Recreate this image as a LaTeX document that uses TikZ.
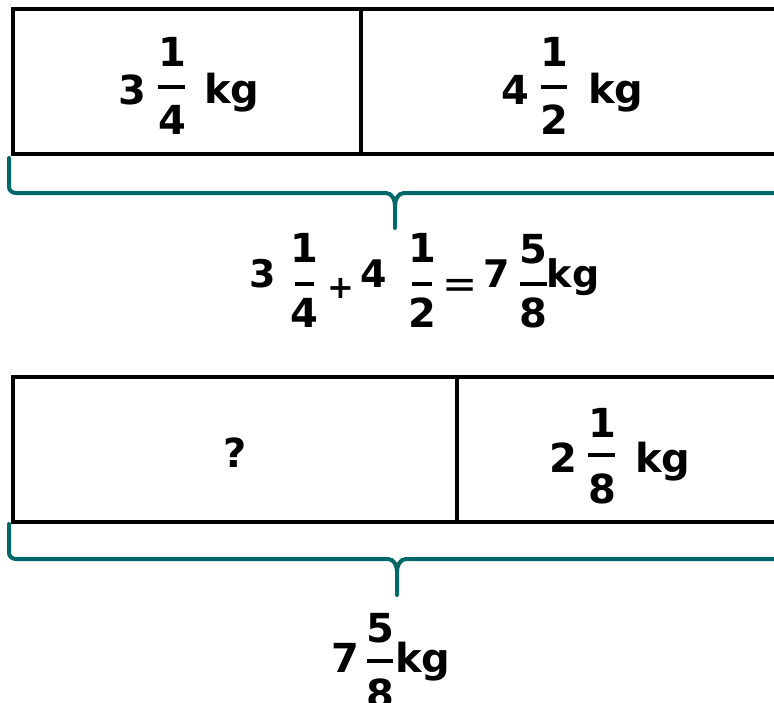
\documentclass[tikz,border=0pt]{standalone}
\usepackage{fontspec}
\setmainfont{DejaVu Sans}
\definecolor{tealc}{RGB}{0,104,104}
\begin{document}
\begin{tikzpicture}[x=1pt,y=-1pt]
\tikzset{
 cell/.style={draw=black, line width=3.2pt, inner sep=0pt},
 txt/.style={inner sep=0pt, anchor=base, font=\fontsize{40}{48}\selectfont\bfseries},
 txtm/.style={inner sep=0pt, anchor=base, font=\fontsize{38}{44}\selectfont\bfseries},
 fbar/.style={line width=3.5pt},
 brace/.style={draw=tealc, line width=4pt, line cap=round, line join=round},
}
\useasboundingbox (0,0) rectangle (774,702);
\clip (0,0) rectangle (774,702);
% top bar
\node[cell, minimum width=348pt, minimum height=145pt] (c1) at (187,81.5) {};
\node[cell, minimum width=429pt, minimum height=145pt] (c2) at (575.5,81.5) {};
\node[txt] (w1) at (132,104) {3};
\node[txt] (n1) at (172,66) {1};
\node[txt] (d1) at (172,134) {4};
\draw[fbar] (158,87) -- (185,87);
\node[txt] (k1) at (232,103) {kg};
\node[txt] (w2) at (515,104) {4};
\node[txt] (n2) at (554,66) {1};
\node[txt] (d2) at (554,134) {2};
\draw[fbar] (541,87) -- (567,87);
\node[txt] (k2) at (616,103) {kg};
% top brace
\coordinate (b1l) at (9,158);
\coordinate (b1t) at (395,228);
\coordinate (b1r) at (790,193);
\draw[brace] (b1l) -- (9,187) to[out=-90,in=180] (16,193) -- (386,193) to[out=0,in=90] (395,206) -- (b1t);
\draw[brace] (b1r) -- (404,193) to[out=180,in=90] (395,206);
% equation
\node[txtm] (e1) at (263,287) {3};
\node[txt] (e1n) at (304,262) {1};
\node[txt] (e1d) at (304,327) {4};
\draw[fbar] (295,284) -- (314,284);
\node[inner sep=0pt, font=\fontsize{32}{38}\selectfont\bfseries] (plus) at (341,288) {+};
\node[txtm] (e2) at (374,287) {4};
\node[txt] (e2n) at (422,262) {1};
\node[txt] (e2d) at (422,327) {2};
\draw[fbar] (412,284) -- (432,284);
\node[inner sep=0pt, font=\fontsize{42}{48}\selectfont] (eq) at (460,289) {=};
\node[txtm] (e3) at (497,287) {7};
\node[txt] (e3n) at (533,263) {5};
\node[txt] (e3d) at (533,327) {8};
\draw[fbar] (520,284) -- (547,284);
\node[txtm] (ek) at (573,287) {kg};
% bottom bar
\node[cell, minimum width=444pt, minimum height=145pt] (c3) at (235,449.5) {};
\node[cell, minimum width=333pt, minimum height=145pt] (c4) at (623.5,449.5) {};
\node[txt] (q) at (235,467) {?};
\node[txt] (w4) at (563,472) {2};
\node[txt] (n4) at (602,437) {1};
\node[txt] (d4) at (602,503) {8};
\draw[fbar] (588,455) -- (615,455);
\node[txt] (k4) at (663,472) {kg};
% bottom brace
\coordinate (b2l) at (9,524);
\coordinate (b2t) at (397,595);
\coordinate (b2r) at (790,559);
\draw[brace] (b2l) -- (9,553) to[out=-90,in=180] (16,559) -- (388,559) to[out=0,in=90] (397,572) -- (b2t);
\draw[brace] (b2r) -- (406,559) to[out=180,in=90] (397,572);
% bottom label
\node[txt] (t7) at (345,672) {7};
\node[txt] (t5) at (380,642) {5};
\node[txt] (t8) at (380,708) {8};
\draw[fbar] (367,661) -- (393,661);
\node[txt] (tk) at (423,672) {kg};
\end{tikzpicture}
\end{document}
